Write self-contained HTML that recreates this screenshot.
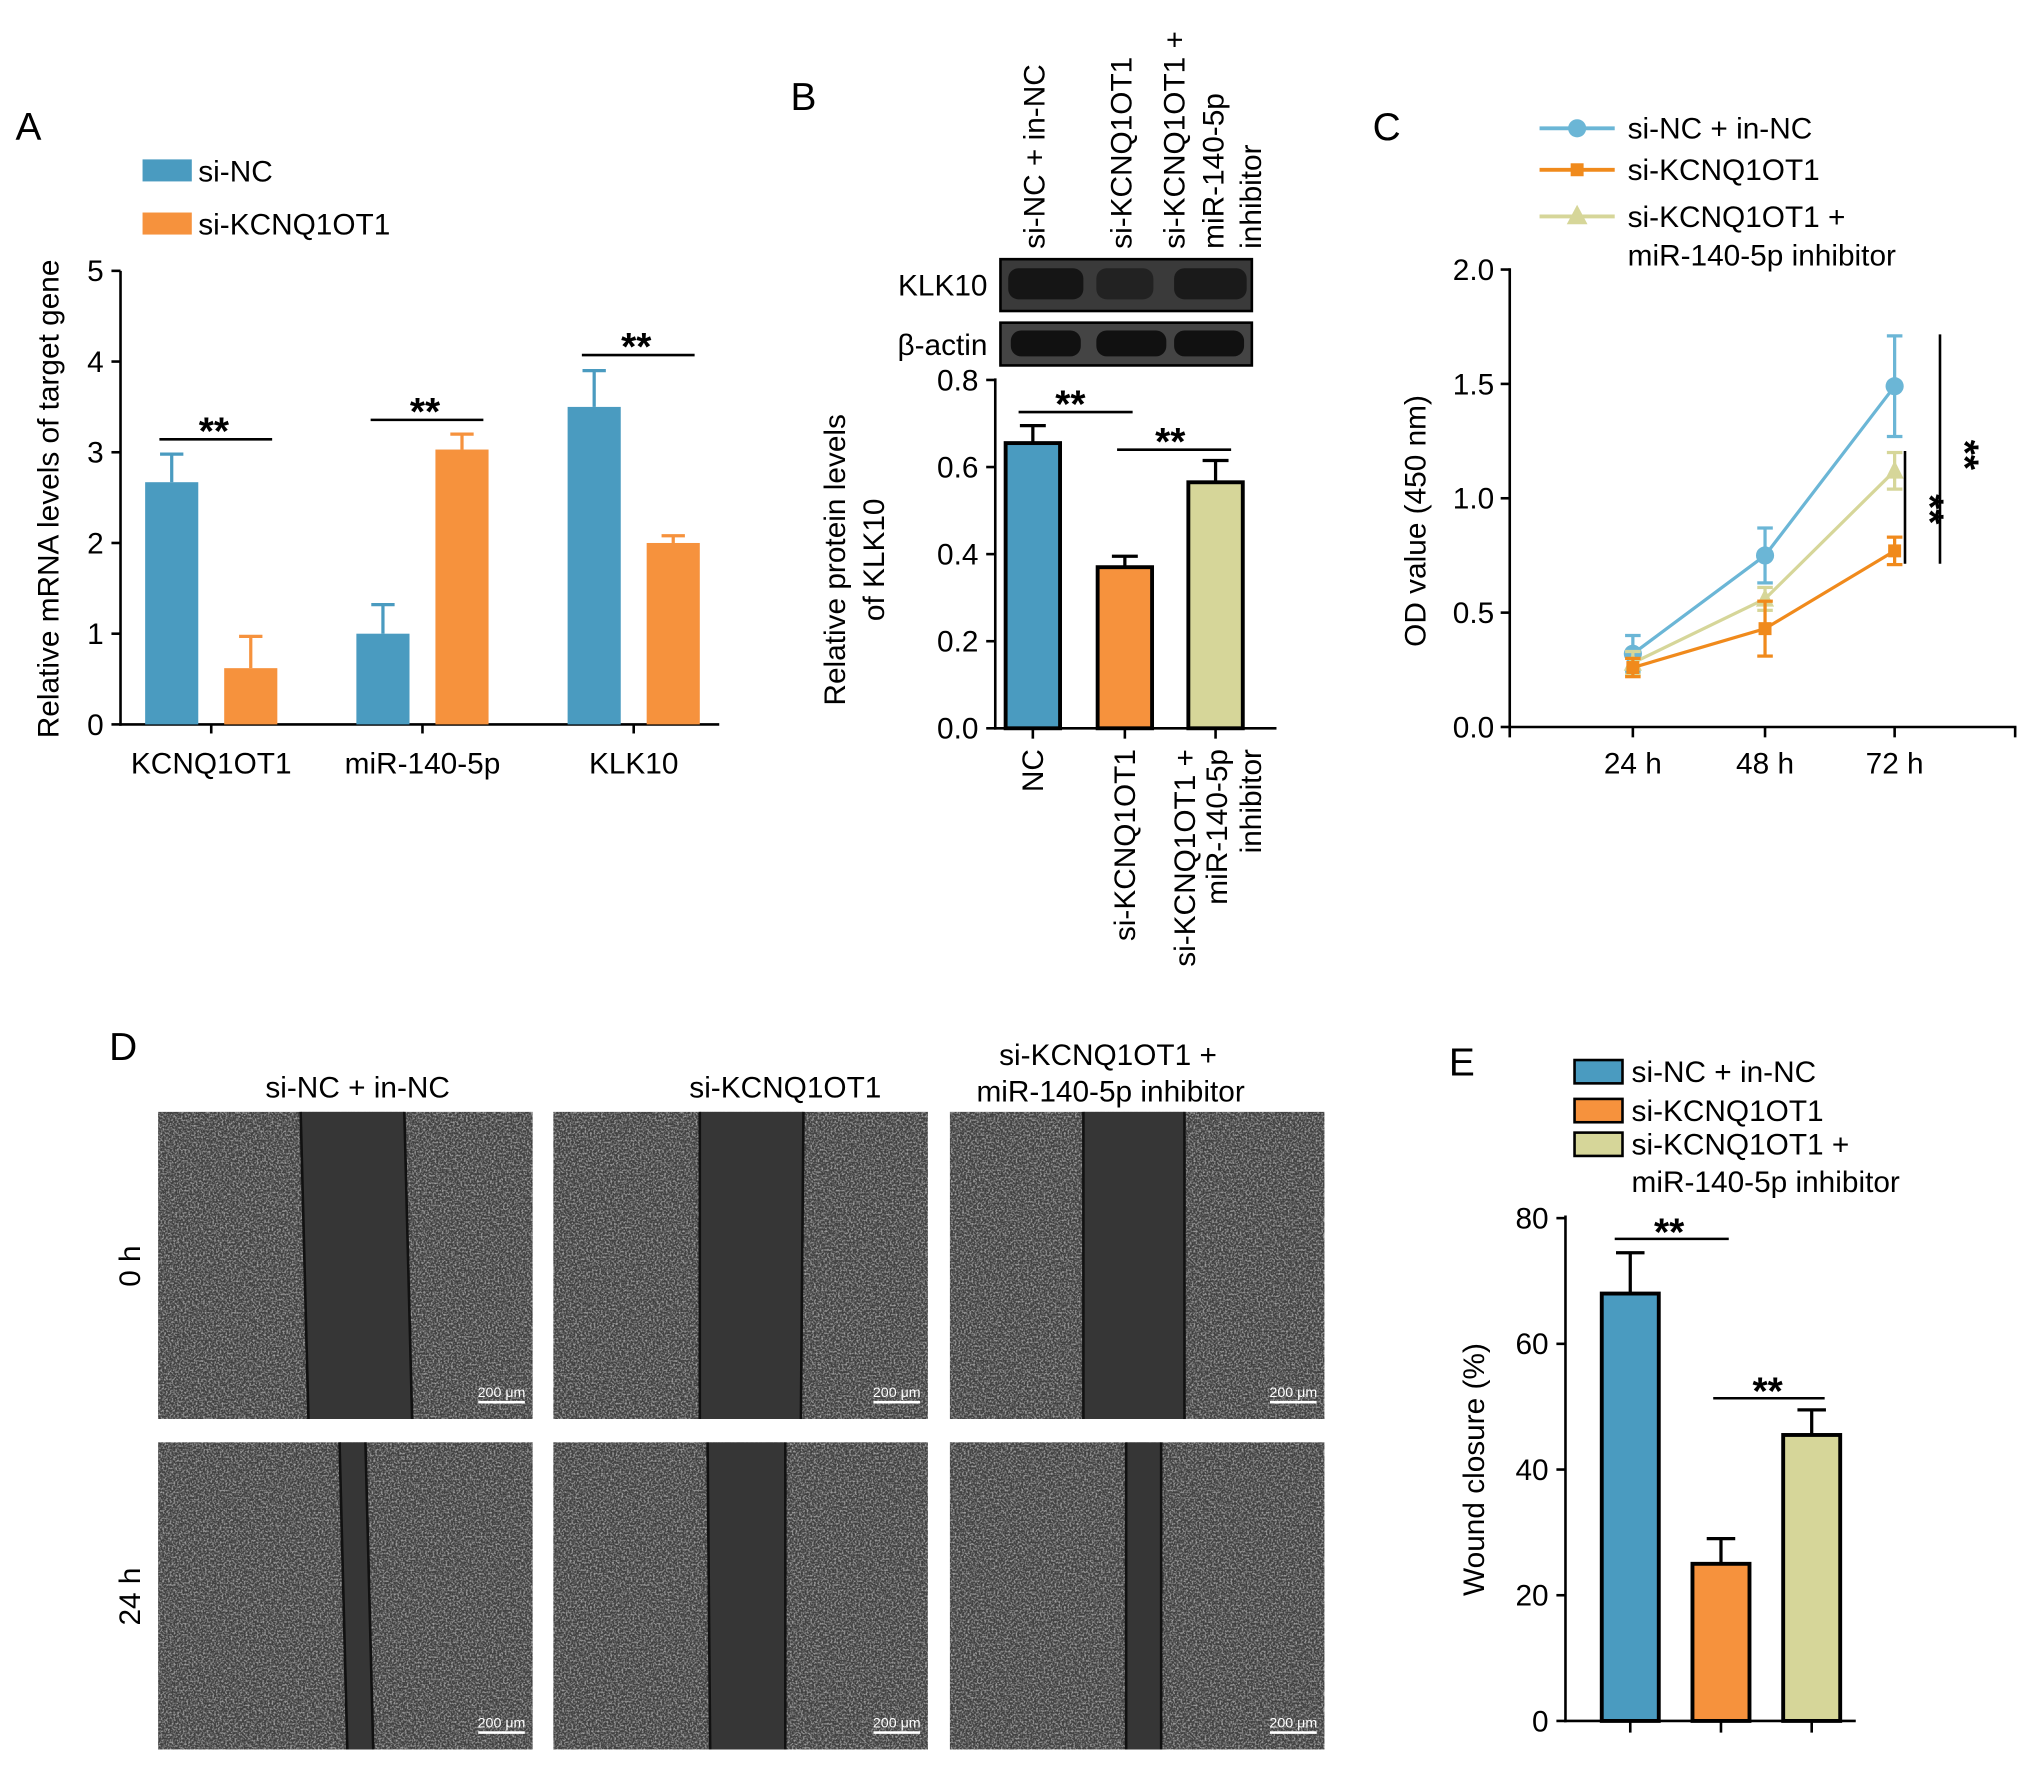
<!DOCTYPE html>
<html><head><meta charset="utf-8"><style>
html,body{margin:0;padding:0;background:#fff}
svg{display:block;font-family:"Liberation Sans",Arial,sans-serif}
</style></head><body>
<svg id="fig" width="2032" height="1765" viewBox="0 0 1568 1362" preserveAspectRatio="none" xmlns="http://www.w3.org/2000/svg">
<defs>
<filter id="noise" x="0" y="0" width="100%" height="100%">
<feTurbulence type="fractalNoise" baseFrequency="0.7" numOctaves="2" seed="3"/>
<feColorMatrix type="matrix" values="0 0 0 0 0.85  0 0 0 0 0.85  0 0 0 0 0.85  0 0 0 3 -1.25"/>
</filter>
</defs>
<g id="root"></g>
</svg>
<script>
// Panel A data
const aCats=["KCNQ1OT1","miR-140-5p","KLK10"];
const aSiNC=[2.67,1.0,3.5];
const aSiNCErr=[2.98,1.32,3.9];
const aSiK=[0.62,3.03,2.0];
const aSiKErr=[0.97,3.2,2.08];
const aTicks=[0,1,2,3,4,5];
// Panel B data
const bCats=["NC","si-KCNQ1OT1","combo"];
const bVals=[0.655,0.37,0.565];
const bErr=[0.695,0.395,0.615];
const bTicks=[0,0.2,0.4,0.6,0.8];
// Panel C data
const cTimes=["24 h","48 h","72 h"];
const cNC=[0.32,0.75,1.49];
const cNCErr=[0.08,0.12,0.22];
const cSiK=[0.26,0.43,0.77];
const cSiKErr=[0.04,0.12,0.06];
const cCombo=[0.28,0.56,1.12];
const cComboErr=[0.05,0.05,0.08];
const cTicks=[0,0.5,1.0,1.5,2.0];
// Panel E data
const eVals=[68,25,45.5];
const eErr=[74.5,29,49.5];
const eTicks=[0,20,40,60,80];

const NS="http://www.w3.org/2000/svg";
const root=document.getElementById('root');
const BLUE="#4a9bc0",ORANGE="#f6923d",KHAKI="#d6d699";
const FS=23;
function el(tag,attrs,parent,text){const e=document.createElementNS(NS,tag);for(const k in attrs)e.setAttribute(k,attrs[k]);if(text!==undefined)e.textContent=text;(parent||root).appendChild(e);return e;}
function line(x1,y1,x2,y2,parent,w,c){return el('line',{x1,y1,x2,y2,stroke:c||'#000','stroke-width':w||2},parent);}
function txt(x,y,s,size,parent,anchor,rot){const a={x,y,'font-size':size||FS,'text-anchor':anchor||'middle',fill:'#000'};if(rot!==undefined)a.transform=`rotate(${rot} ${x} ${y})`;return el('text',a,parent,s);}
function stars(x,y,parent,rot){const t=txt(x,y+4,'**',30,parent,'middle',rot);t.setAttribute('font-weight','bold');return t;}

[["A",22,108],["B",620,85],["C",1070,108],["D",95,818],["E",1128,830]].forEach(p=>{const t=txt(p[1],p[2],p[0],30,root,'middle');});

// ---------- Panel A ----------
const gA=el('g',{},root);


const ayScale=v=>559-v*70;
line(93,209,93,560,gA);line(92,559,555,559,gA);
aTicks.forEach(t=>{line(86,ayScale(t),93,ayScale(t),gA);txt(80,ayScale(t)+8,String(t),FS,gA,'end');});
const aCenters=[163,326,489];
aCats.forEach((c,i)=>{
 const cx=aCenters[i];
 line(cx,559,cx,566,gA);
 const lb=txt(cx,597,c,FS,gA);
 [[aSiNC,aSiNCErr,BLUE,-51,'si-nc'],[aSiK,aSiKErr,ORANGE,10,'si-kcnq1ot1']].forEach(s=>{
  const x=cx+s[3],w=41,v=s[0][i],e=s[1][i];
  line(x+w/2,ayScale(e),x+w/2,ayScale(v),gA,2.5,s[2]);line(x+w/2-9,ayScale(e),x+w/2+9,ayScale(e),gA,2.5,s[2]);
  const r=el('rect',{x,y:ayScale(v),width:w,height:ayScale(0)-ayScale(v),fill:s[2]},gA);
  
 });
 const sigY=[339,324,274][i];
 line(cx-40,sigY,cx+47,sigY,gA,2);stars(cx+2,sigY,gA);
});
txt(45,385,'Relative mRNA levels of target gene',FS,gA,'middle',-90);
el('rect',{x:110,y:123,width:38,height:17,fill:BLUE},gA);
el('rect',{x:110,y:164,width:38,height:17,fill:ORANGE},gA);
txt(153,140,'si-NC',FS,gA,'start');txt(153,181,'si-KCNQ1OT1',FS,gA,'start');

// ---------- Panel B ----------
const gB=el('g',{},root);


const byScale=v=>562-v*336;
line(768,292,768,563,gB);line(767,562,985,562,gB);
bTicks.forEach(t=>{line(761,byScale(t),768,byScale(t),gB);txt(755,byScale(t)+8,t.toFixed(1),FS,gB,'end');});
const bCols=[BLUE,ORANGE,KHAKI];const bX=[776,847,917];
bVals.forEach((v,i)=>{
 const x=bX[i],w=42;
 line(x+w/2,byScale(bErr[i]),x+w/2,byScale(v),gB,2.5);line(x+w/2-10,byScale(bErr[i]),x+w/2+10,byScale(bErr[i]),gB,2.5);
 const r=el('rect',{x,y:byScale(v),width:w,height:byScale(0)-byScale(v),fill:bCols[i],stroke:'#000','stroke-width':3},gB);
 
 line(x+w/2,562,x+w/2,570,gB);
});
line(786,318,874,318,gB);stars(826,318,gB);
line(862,347,950,347,gB);stars(903,347,gB);
txt(652,432,'Relative protein levels',FS,gB,'middle',-90);txt(682,432,'of KLK10',FS,gB,'middle',-90);
txt(805,578,'NC',FS,gB,'end',-90);
txt(876,578,'si-KCNQ1OT1',FS,gB,'end',-90);
txt(922,578,'si-KCNQ1OT1 +',FS,gB,'end',-90);
txt(947,578,'miR-140-5p',FS,gB,'end',-90);
txt(973,578,'inhibitor',FS,gB,'end',-90);
txt(806,192,'si-NC + in-NC',FS,gB,'start',-90);
txt(873,192,'si-KCNQ1OT1',FS,gB,'start',-90);
txt(914,192,'si-KCNQ1OT1 +',FS,gB,'start',-90);
txt(944,192,'miR-140-5p',FS,gB,'start',-90);
txt(973,192,'inhibitor',FS,gB,'start',-90);
const blot1=el('rect',{x:772,y:200,width:194,height:40,fill:'#3a3a3a',stroke:'#000','stroke-width':2},gB);

const blot2=el('rect',{x:772,y:249,width:194,height:33,fill:'#444',stroke:'#000','stroke-width':2},gB);

[[778,'#151515',58],[846,'#222',44],[906,'#1a1a1a',56]].forEach(b=>{el('rect',{x:b[0],y:207,width:b[2],height:24,rx:8,fill:b[1]},gB);});
[780,846,906].forEach(x=>el('rect',{x,y:255,width:54,height:20,rx:8,fill:'#111'},gB));
txt(762,228,'KLK10',FS,gB,'end');txt(762,274,'β-actin',FS,gB,'end');

// ---------- Panel C ----------
const gC=el('g',{},root);


const cyScale=v=>561-v*176.5;
const cxs=[1260,1362,1462];
line(1165,207,1165,569,gC);line(1164,561,1556,561,gC);
cTicks.forEach(t=>{line(1158,cyScale(t),1165,cyScale(t),gC);txt(1153,cyScale(t)+8,t.toFixed(1),FS,gC,'end');});
cTimes.forEach((t,i)=>{line(cxs[i],561,cxs[i],569,gC);txt(cxs[i],597,t,FS,gC);});
line(1555,561,1555,569,gC);
txt(1100,402,'OD value (450 nm)',FS,gC,'middle',-90);
[[cNC,cNCErr,'#6bb6d6','circle','si-nc'],[cCombo,cComboErr,KHAKI,'tri','combo'],[cSiK,cSiKErr,'#f08a1c','sq','si-kcnq1ot1']].forEach(s=>{
 const pts=s[0].map((v,i)=>cxs[i]+','+cyScale(v)).join(' ');
 const pl=el('polyline',{points:pts,fill:'none',stroke:s[2],'stroke-width':2.5},gC);
 
 s[0].forEach((v,i)=>{
  const x=cxs[i],y=cyScale(v),e=s[1][i]*176.5;
  line(x,y-e,x,y+e,gC,2.5,s[2]);line(x-6,y-e,x+6,y-e,gC,2.5,s[2]);line(x-6,y+e,x+6,y+e,gC,2.5,s[2]);
  let m;
  if(s[3]=='circle')m=el('circle',{cx:x,cy:y,r:7,fill:s[2]},gC);
  else if(s[3]=='sq')m=el('rect',{x:x-5,y:y-5,width:10,height:10,fill:s[2]},gC);
  else m=el('polygon',{points:`${x},${y-8} ${x-7},${y+6} ${x+7},${y+6}`,fill:s[2]},gC);
  
 });
});
line(1497,258,1497,435,gC);stars(1506,347,gC,90);
line(1470,348,1470,435,gC);stars(1479,389,gC,90);
[[99,'#6bb6d6','circle','si-NC + in-NC'],[131,'#f08a1c','sq','si-KCNQ1OT1'],[167,KHAKI,'tri','si-KCNQ1OT1 +']].forEach(l=>{
 line(1188,l[0],1246,l[0],gC,3,l[1]);
 if(l[2]=='circle')el('circle',{cx:1217,cy:l[0],r:7,fill:l[1]},gC);
 else if(l[2]=='sq')el('rect',{x:1212,y:l[0]-5,width:10,height:10,fill:l[1]},gC);
 else el('polygon',{points:`1217,${l[0]-9} 1209,${l[0]+6} 1225,${l[0]+6}`,fill:l[1]},gC);
 txt(1256,l[0]+8,l[3],FS,gC,'start');
});
txt(1256,205,'miR-140-5p inhibitor',FS,gC,'start');

// ---------- Panel D ----------
const gD=el('g',{},root);


txt(276,847,'si-NC + in-NC',FS,gD);txt(606,847,'si-KCNQ1OT1',FS,gD);
txt(855,822,'si-KCNQ1OT1 +',FS,gD);txt(857,850,'miR-140-5p inhibitor',FS,gD);
txt(108,977,'0 h',FS,gD,'middle',-90);txt(108,1232,'24 h',FS,gD,'middle',-90);
const colX=[122,427,733],rowY=[858,1113];
const bands=[[[232,238,312,318],[262,268,282,288]],[[540,540,620,618],[546,548,606,606]],[[836,836,914,914],[869,869,896,896]]];
colX.forEach((x,c)=>rowY.forEach((y,r)=>{
 const g=el('g',{},gD);
 
 
 el('rect',{x,y,width:289,height:237,fill:'#404040'},g);
 el('rect',{x,y,width:289,height:237,filter:'url(#noise)',opacity:0.55},g);
 const b=bands[c][r];
 el('polygon',{points:`${b[0]},${y} ${b[2]},${y} ${b[3]},${y+237} ${b[1]},${y+237}`,fill:'#363636'},g);
 line(b[0],y,b[1],y+237,g,2,'#111');line(b[2],y,b[3],y+237,g,2,'#111');
 line(x+247,y+224,x+283,y+224,g,2,'#fff');
 const t=txt(x+265,y+220,'200 μm',11,g);t.setAttribute('fill','#fff');
}));

// ---------- Panel E ----------
const gE=el('g',{},root);


const eyScale=v=>1328-v*4.85;
line(1208,938,1208,1329,gE);line(1207,1328,1432,1328,gE);
eTicks.forEach(t=>{line(1201,eyScale(t),1208,eyScale(t),gE);txt(1195,eyScale(t)+8,String(t),FS,gE,'end');});
const eX=[1236,1306,1376],eCols=[BLUE,ORANGE,KHAKI],eNames=['si-nc','si-kcnq1ot1','combo'];
eVals.forEach((v,i)=>{
 const x=eX[i],w=44;
 line(x+w/2,eyScale(eErr[i]),x+w/2,eyScale(v),gE,2.5);line(x+w/2-11,eyScale(eErr[i]),x+w/2+11,eyScale(eErr[i]),gE,2.5);
 const r=el('rect',{x,y:eyScale(v),width:w,height:eyScale(0)-eyScale(v),fill:eCols[i],stroke:'#000','stroke-width':3},gE);
 
 line(x+w/2,1328,x+w/2,1337,gE);
});
line(1246,956,1334,956,gE);stars(1288,957,gE);
line(1322,1079,1408,1079,gE);stars(1364,1080,gE);
txt(1145,1134,'Wound closure (%)',FS,gE,'middle',-90);
[[818,BLUE,'si-NC + in-NC'],[848,ORANGE,'si-KCNQ1OT1'],[874,KHAKI,'si-KCNQ1OT1 +']].forEach(l=>{
 el('rect',{x:1215,y:l[0],width:37,height:18,fill:l[1],stroke:'#000','stroke-width':2},gE);
 txt(1259,l[0]+17,l[2],FS,gE,'start');
});
txt(1259,920,'miR-140-5p inhibitor',FS,gE,'start');
</script>
</body></html>
